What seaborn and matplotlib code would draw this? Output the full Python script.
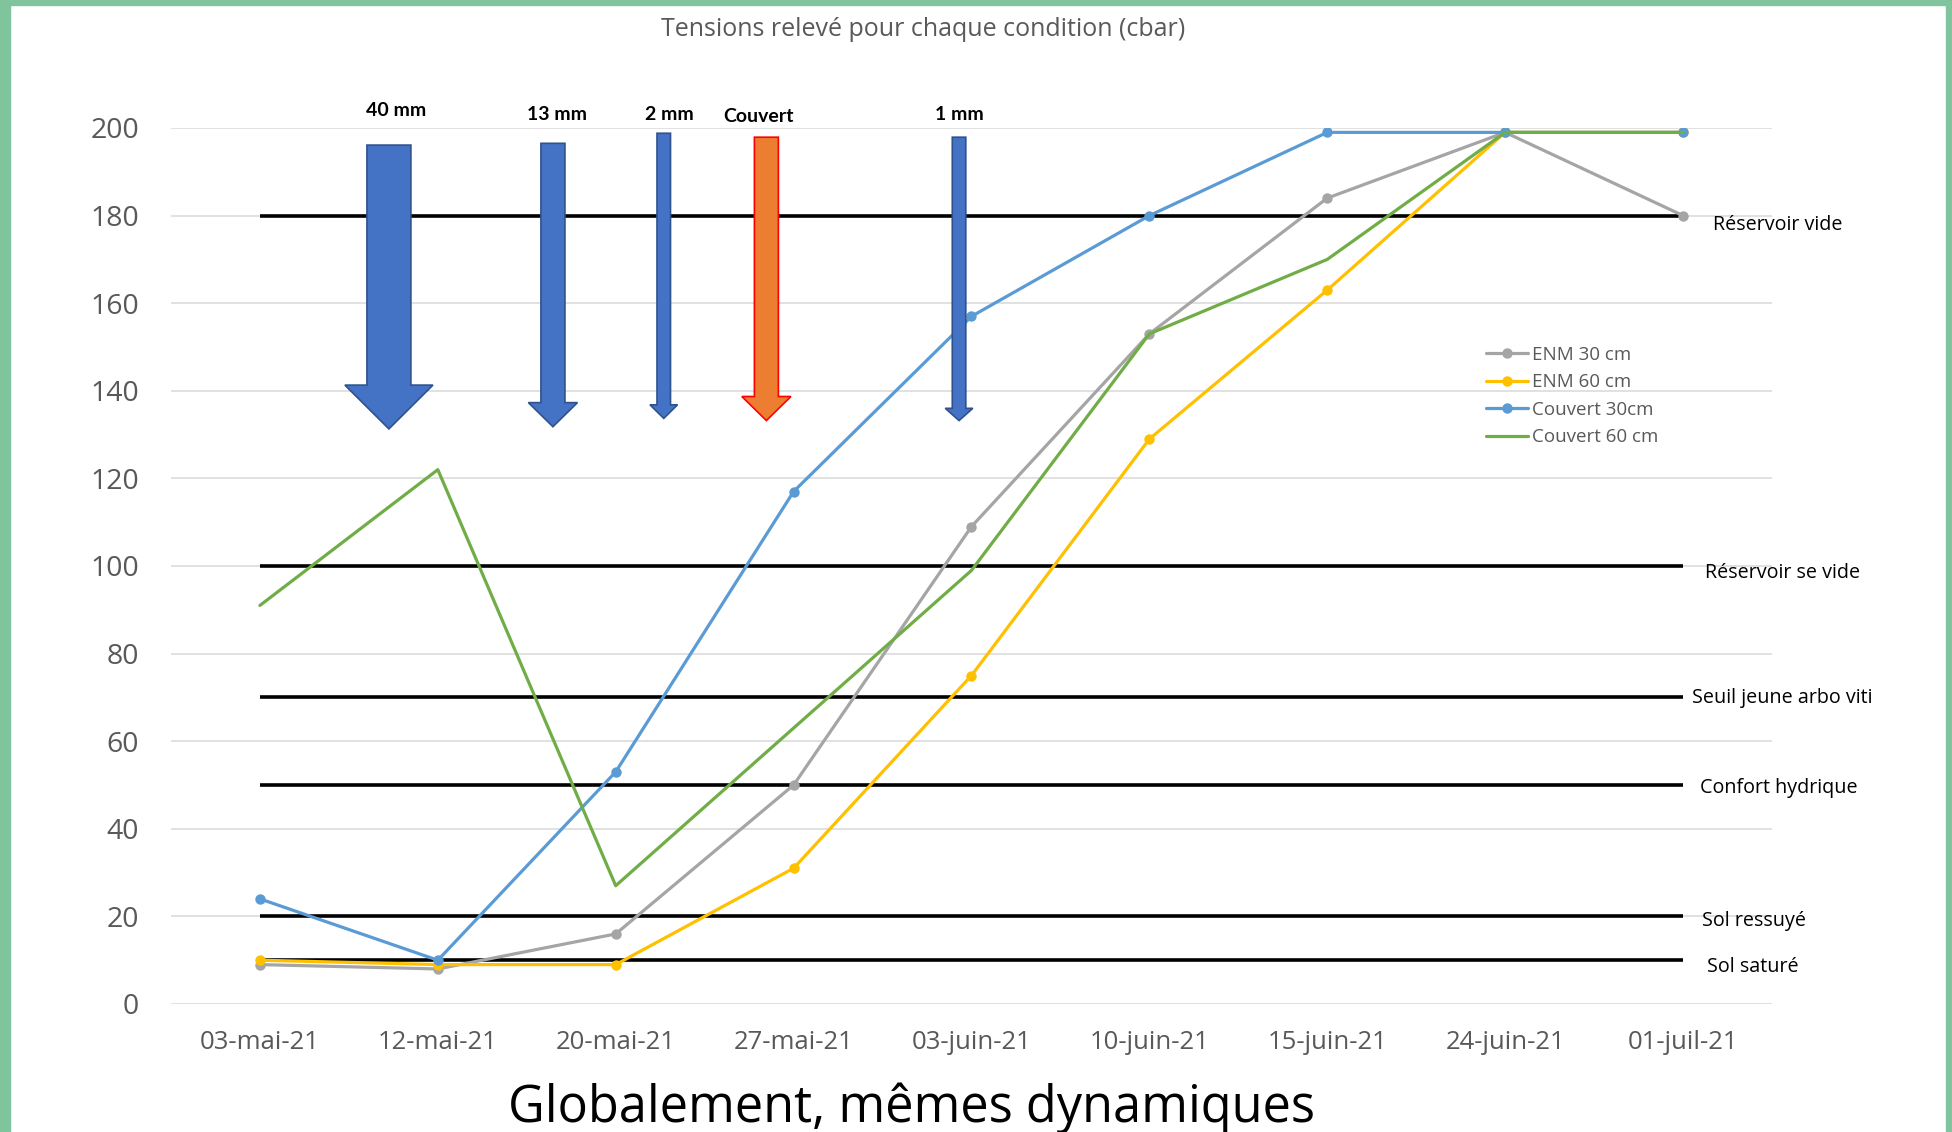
import matplotlib
matplotlib.use("Agg")
import matplotlib.pyplot as plt
from matplotlib.patches import FancyArrow, Rectangle
import pandas as pd
import seaborn as sns

# --- data -------------------------------------------------------------------
dates = ["03-mai-21", "12-mai-21", "20-mai-21", "27-mai-21", "03-juin-21",
         "10-juin-21", "15-juin-21", "24-juin-21", "01-juil-21"]
enm_30 = [9, 8, 16, 50, 109, 153, 184, 199, 180]
enm_60 = [10, 9, 9, 31, 75, 129, 163, 199, 199]
couvert_30 = [24, 10, 53, 117, 157, 180, 199, 199, 199]
couvert_60 = [91, 122, 27, 63, 99, 153, 170, 199, 199]
series_names = ["ENM 30 cm", "ENM 60 cm", "Couvert 30cm", "Couvert 60 cm"]

threshold_values = [180, 100, 70, 50, 20, 10]
threshold_labels = ["Réservoir vide", "Réservoir se vide", "Seuil jeune arbo viti",
                    "Confort hydrique", "Sol ressuyé", "Sol saturé"]

event_labels = ["40 mm", "13 mm", "2 mm", "Couvert", "1 mm"]

# --- styling ----------------------------------------------------------------
sns.set_theme(style="white")
plt.rcParams["font.family"] = ["Open Sans", "DejaVu Sans"]

W, H = 1952, 1132
fig = plt.figure(figsize=(W / 100, H / 100), dpi=100)
fig.patch.set_facecolor("white")

ax = fig.add_axes([171 / W, (H - 1004) / H, (1772 - 171) / W, (1004 - 128) / H])
ax.set_facecolor("white")

pos = list(range(len(dates)))
df = pd.DataFrame({
    "pos": pos * 4,
    "val": enm_30 + enm_60 + couvert_30 + couvert_60,
    "serie": sum([[n] * len(dates) for n in series_names], []),
})

colors = {"ENM 30 cm": "#A5A5A5", "ENM 60 cm": "#FFC000",
          "Couvert 30cm": "#5B9BD5", "Couvert 60 cm": "#70AD47"}
markers = {"ENM 30 cm": "o", "ENM 60 cm": "o", "Couvert 30cm": "o", "Couvert 60 cm": None}

handles = []
for name in series_names:
    sub = df[df["serie"] == name]
    sns.lineplot(data=sub, x="pos", y="val", color=colors[name], marker=markers[name],
                 markersize=7.5, markeredgewidth=0, linewidth=2.3, ax=ax, legend=False,
                 zorder=3)
    line = ax.lines[-1]
    line.set_label(name)
    handles.append(line)

# threshold lines and their captions
ax.hlines(threshold_values, 0, len(dates) - 1, colors="black", linewidth=2.6, zorder=2)
label_x = [8.53, 8.56, 8.56, 8.54, 8.40, 8.39]
label_y = [177.8, 98.4, 69.9, 49.3, 19.0, 8.4]
for lab, lx, ly in zip(threshold_labels, label_x, label_y):
    ax.text(lx, ly, lab, ha="center", va="center", fontsize=14.2, color="black",
            clip_on=False, zorder=6)

# rainfall / cover events as downward block arrows
arrows = [
    # x, top, tip, head length, shaft width, head width, face, edge
    (0.725, 196.1, 131.3, 10.0, 0.247, 0.495, "#4472C4", "#2F528F"),
    (1.647, 196.5, 131.8, 5.5, 0.135, 0.276, "#4472C4", "#2F528F"),
    (2.270, 198.8, 133.7, 3.1, 0.076, 0.155, "#4472C4", "#2F528F"),
    (2.847, 197.9, 133.2, 5.5, 0.135, 0.276, "#ED7D31", "#FF0000"),
    (3.930, 197.9, 133.2, 2.8, 0.076, 0.155, "#4472C4", "#2F528F"),
]
label_pos = [(0.765, 204.0), (1.668, 203.1), (2.30, 203.1), (2.80, 202.6), (3.93, 203.1)]
for (x, top, tip, hl, sw, hw, fc, ec), lab, (tx, ty) in zip(arrows, event_labels, label_pos):
    arr = FancyArrow(x, top, 0, tip - top, width=sw, head_width=hw, head_length=hl,
                     length_includes_head=True, facecolor=fc, edgecolor=ec,
                     linewidth=1.2, zorder=5)
    ax.add_patch(arr)
    ax.text(tx, ty, lab, ha="center", va="center", fontsize=14, fontweight="bold",
            family=["Lato", "DejaVu Sans"], color="black", clip_on=False, zorder=6)

# axes
ax.set_xlim(-0.5, len(dates) - 0.5)
ax.set_ylim(0, 200)
ax.set_xticks(pos)
ax.set_xticklabels(dates)
ax.set_yticks(range(0, 201, 20))
ax.tick_params(axis="x", length=0, pad=19, labelsize=18.5, labelcolor="#595959")
ax.tick_params(axis="y", length=0, pad=23, labelsize=20.5, labelcolor="#595959")
ax.set_xlabel("")
ax.set_ylabel("")
ax.grid(axis="y", color="#D9D9D9", linewidth=1.1)
ax.grid(axis="x", visible=False)
for s in ax.spines.values():
    s.set_visible(False)

leg = fig.legend(handles=handles, labels=series_names, loc="upper left",
                 bbox_to_anchor=(1486 / W, 1 - 346 / H), frameon=False,
                 fontsize=13.5, handlelength=2.25, handletextpad=0.2,
                 labelspacing=0.5, borderpad=0, borderaxespad=0)
for t in leg.get_texts():
    t.set_color("#595959")

fig.text(923 / W, 1 - 29 / H, "Tensions relevé pour chaque condition (cbar)",
         ha="center", va="center", fontsize=18, color="#595959")
fig.text(912 / W, 1 - 1108 / H, "Globalement, mêmes dynamiques",
         ha="center", va="center", fontsize=36.4, color="black")

# green frame
frame_color = "#80C49D"
fig.add_artist(Rectangle((0, 0), 10 / W, 1, transform=fig.transFigure,
                         color=frame_color, zorder=10))
fig.add_artist(Rectangle((0, 1 - 5 / H), 1, 5 / H, transform=fig.transFigure,
                         color=frame_color, zorder=10))
fig.add_artist(Rectangle((1946 / W, 0), 6 / W, 1, transform=fig.transFigure,
                         color=frame_color, zorder=10))

fig.savefig("out.png", dpi=100)
